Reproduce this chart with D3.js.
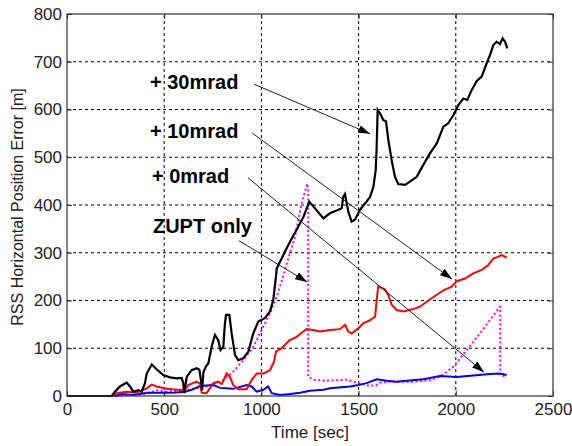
<!DOCTYPE html>
<html><head><meta charset="utf-8">
<script src="https://cdn.jsdelivr.net/npm/d3@7"></script>
<style>body{margin:0;background:#fff}svg{display:block}text{font-family:Arial,"Liberation Sans",sans-serif}</style>
</head><body><svg id="c" width="572" height="446"></svg>
<script>
const xTicks=[0,500,1000,1500,2000,2500];
const yTicks=[0,100,200,300,400,500,600,700,800];
const xLabel="Time [sec]";
const yLabel="RSS Horizontal Position Error [m]";
const zuptOnly=[[0,0],[250,0],[400,4],[460,12],[500,9],[600,12],[700,18],[800,32],[855,51],[907,75],[958,103],[1001,138],[1044,173],[1079,208],[1104,240],[1140,290],[1173,334],[1207,403],[1236,445],[1241,430],[1241,40],[1267,34],[1330,32],[1439,34],[1473,30],[1507,26],[1559,21],[1593,23],[1610,28],[1662,30],[1781,30],[1867,33],[1919,41],[1987,61],[2056,96],[2124,131],[2176,159],[2227,187],[2229,187],[2229,44],[2262,40]];
const mrad0=[[0,0],[250,0],[281,4],[341,2],[376,4],[410,7],[478,7],[547,7],[607,9],[641,13],[684,21],[753,23],[787,17],[855,15],[924,23],[950,20],[976,9],[1010,13],[1035,20],[1053,6],[1096,2],[1147,4],[1199,7],[1250,11],[1319,13],[1353,16],[1456,20],[1499,23],[1541,27],[1593,35],[1644,32],[1696,30],[1747,32],[1833,35],[1919,42],[2004,40],[2090,43],[2176,46],[2227,47],[2262,44]];
const mrad10=[[0,0],[240,0],[256,6],[307,9],[358,7],[410,16],[436,24],[461,20],[513,15],[564,13],[607,13],[624,23],[667,30],[684,26],[693,7],[718,6],[753,27],[778,30],[796,25],[821,47],[838,40],[855,23],[881,14],[924,14],[950,34],[976,47],[1010,47],[1044,54],[1065,72],[1075,93],[1104,100],[1138,114],[1147,117],[1181,124],[1216,135],[1233,140],[1267,138],[1301,135],[1336,137],[1353,138],[1404,140],[1430,149],[1447,135],[1464,131],[1499,142],[1524,152],[1559,159],[1585,166],[1593,201],[1601,230],[1636,223],[1653,211],[1670,191],[1696,180],[1730,177],[1781,182],[1816,187],[1859,200],[1902,212],[1944,223],[1979,229],[2004,240],[2047,246],[2090,257],[2133,264],[2167,274],[2193,288],[2219,292],[2236,295],[2262,290]];
const mrad30=[[0,0],[230,0],[247,9],[272,20],[307,28],[324,20],[341,9],[367,12],[384,9],[401,27],[410,47],[436,66],[461,56],[495,44],[530,39],[564,37],[590,38],[598,27],[603,6],[616,40],[641,54],[667,58],[681,55],[690,30],[695,12],[702,50],[715,62],[727,68],[744,103],[761,128],[778,117],[790,96],[804,103],[812,150],[818,170],[835,170],[847,131],[864,86],[881,75],[907,79],[933,93],[958,131],[984,156],[1018,163],[1044,177],[1061,201],[1075,250],[1079,267],[1087,274],[1121,302],[1147,323],[1181,348],[1216,375],[1246,407],[1276,393],[1319,372],[1353,383],[1396,390],[1413,393],[1421,417],[1430,423],[1447,386],[1464,365],[1481,369],[1507,390],[1533,403],[1559,417],[1576,438],[1588,473],[1593,522],[1598,599],[1610,592],[1627,578],[1641,575],[1653,536],[1670,494],[1687,459],[1704,444],[1739,442],[1764,449],[1799,459],[1833,484],[1867,508],[1902,529],[1936,564],[1961,571],[1987,588],[2013,609],[2039,623],[2059,620],[2082,641],[2108,660],[2133,669],[2159,697],[2176,714],[2193,735],[2210,742],[2227,737],[2241,749],[2253,742],[2265,728]];
const labels=["+ 30mrad","+ 10mrad","+ 0mrad","ZUPT only"];
const labelPos=[[427,643],[427,540],[437,446],[442,341]];
const arrowFrom=[[962,653],[952,551],[931,457],[885,325]];
const arrowTo=[[1559,549],[1980,245],[2145,50],[1235,239]];

const svg=d3.select("#c");
svg.append("rect").attr("width",572).attr("height",446).attr("fill","#fff");
const x=d3.scaleLinear().domain([0,2500]).range([67,553]);
const y=d3.scaleLinear().domain([0,800]).range([396,14]);

// grid
const g=svg.append("g");
g.selectAll(".gx").data(xTicks.slice(1,-1)).join("line")
 .attr("x1",d=>x(d)).attr("x2",d=>x(d)).attr("y1",y(0)).attr("y2",y(800))
 .attr("stroke","#000").attr("stroke-width",1).attr("stroke-dasharray","3,3");
g.selectAll(".gy").data(yTicks.slice(1,-1)).join("line")
 .attr("y1",d=>y(d)).attr("y2",d=>y(d)).attr("x1",x(0)).attr("x2",x(2500))
 .attr("stroke","#000").attr("stroke-width",1).attr("stroke-dasharray","3,3");

// axes
function styleAxis(sel){sel.select(".domain").remove();sel.selectAll("line").attr("stroke","#333");
 sel.selectAll("text").attr("font-size",17).attr("fill","#222").attr("font-family","Arial, 'Liberation Sans', sans-serif");}
svg.append("g").attr("transform",`translate(0,${y(0)})`)
 .call(d3.axisBottom(x).tickValues(xTicks).tickFormat(d3.format("d")).tickSizeInner(-5).tickSizeOuter(0).tickPadding(7))
 .call(styleAxis);
svg.append("g").attr("transform",`translate(0,${y(800)})`)
 .call(d3.axisTop(x).tickValues(xTicks).tickFormat("").tickSizeInner(-5).tickSizeOuter(0))
 .call(styleAxis);
svg.append("g").attr("transform",`translate(${x(0)},0)`)
 .call(d3.axisLeft(y).tickValues(yTicks).tickFormat(d3.format("d")).tickSizeInner(-5).tickSizeOuter(0).tickPadding(5))
 .call(styleAxis);
svg.append("g").attr("transform",`translate(${x(2500)},0)`)
 .call(d3.axisRight(y).tickValues(yTicks).tickFormat("").tickSizeInner(-5).tickSizeOuter(0))
 .call(styleAxis);

// series
const line=d3.line().x(d=>x(d[0])).y(d=>y(d[1]));
svg.append("path").datum(zuptOnly).attr("d",line).attr("fill","none").attr("stroke","#ff00ff").attr("stroke-width",2).attr("stroke-dasharray","2,2.5");
svg.append("path").datum(mrad0).attr("d",line).attr("fill","none").attr("stroke","#0000ff").attr("stroke-width",2);
svg.append("path").datum(mrad10).attr("d",line).attr("fill","none").attr("stroke","#ff0000").attr("stroke-width",2);
svg.append("path").datum(mrad30).attr("d",line).attr("fill","none").attr("stroke","#000").attr("stroke-width",2.2);

// frame
svg.append("rect").attr("x",x(0)).attr("y",y(800)).attr("width",x(2500)-x(0)).attr("height",y(0)-y(800))
 .attr("fill","none").attr("stroke","#333").attr("stroke-width",1.2);

// arrows
const defs=svg.append("defs");
defs.append("marker").attr("id","ah").attr("viewBox","0 0 12 8").attr("refX",12).attr("refY",4)
 .attr("markerWidth",12).attr("markerHeight",8).attr("markerUnits","userSpaceOnUse").attr("orient","auto")
 .append("path").attr("d","M0,0L12,4L0,8Z").attr("fill","#000");
svg.selectAll(".arr").data(arrowFrom).join("line")
 .attr("x1",d=>x(d[0])).attr("y1",d=>y(d[1]))
 .attr("x2",(d,i)=>x(arrowTo[i][0])).attr("y2",(d,i)=>y(arrowTo[i][1]))
 .attr("stroke","#222").attr("stroke-width",1).attr("marker-end","url(#ah)");

// labels
svg.selectAll(".lbl").data(labels).join("text")
 .attr("x",(d,i)=>x(labelPos[i][0])).attr("y",(d,i)=>y(labelPos[i][1]))
 .attr("font-size",20).attr("font-weight","bold").attr("fill","#000").text(d=>d);

// axis titles
svg.append("text").attr("x",(x(0)+x(2500))/2).attr("y",438).attr("text-anchor","middle")
 .attr("font-size",17).attr("fill","#222").text(xLabel);
svg.append("text").attr("transform",`translate(23,207) rotate(-90)`).attr("text-anchor","middle")
 .attr("font-size",16).attr("fill","#222").text(yLabel);
</script></body></html>
